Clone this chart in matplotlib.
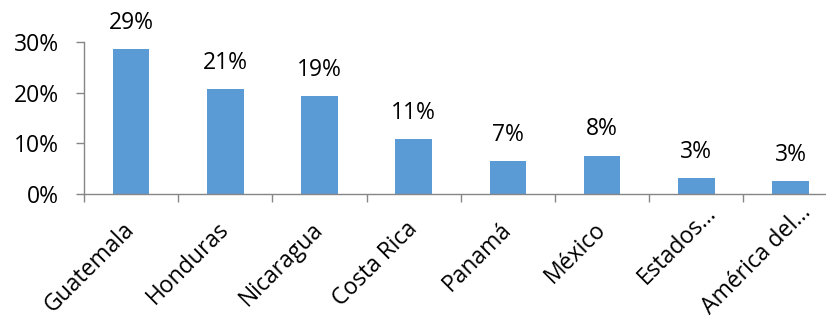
import matplotlib
matplotlib.use("Agg")
import matplotlib.pyplot as plt
import matplotlib.transforms as mtransforms
import numpy as np

# Share of respondents by country of origin (percent)
countries = ["Guatemala", "Honduras", "Nicaragua", "Costa Rica", "Panamá",
             "México", "Estados...", "América del..."]
shares = [28.6, 20.8, 19.3, 10.8, 6.6, 7.6, 3.2, 2.6]
yticks = [0, 10, 20, 30]

plt.rcParams["font.family"] = ["Open Sans", "DejaVu Sans"]
FS = 16.5
BLUE = "#5B9BD5"
AXIS_GRAY = "#868686"

fig = plt.figure(figsize=(8.26, 3.21), dpi=100)
ax = fig.add_axes([84 / 826, 127 / 321, 753.6 / 826, 151.7 / 321])

x = np.arange(len(countries))
bars = ax.bar(x, shares, width=0.39, color=BLUE, zorder=2)

ax.set_xlim(-0.5, len(countries) - 0.5)
ax.set_ylim(0, 30)

# value labels above each bar
for xi, v in zip(x, shares):
    ax.annotate(f"{v:.0f}%", xy=(xi, v), xytext=(0, 18.8),
                textcoords="offset points", ha="center", va="center",
                fontsize=FS, color="black", clip_on=False)

ax.set_yticks(yticks)
ax.set_yticklabels([f"{t}%" for t in yticks], fontsize=FS)
ax.tick_params(axis="y", length=6, width=1, color=AXIS_GRAY, pad=12)

# category ticks sit on the boundaries between bars
ax.set_xticks(np.arange(len(countries) + 1) - 0.5, minor=False)
ax.set_xticklabels([])
ax.tick_params(axis="x", which="major", length=6, width=1, color=AXIS_GRAY)
ax.set_xticks(x, minor=True)
ax.set_xticklabels(countries, minor=True, rotation=45, ha="right",
                   va="center", rotation_mode="anchor", fontsize=FS)
ax.tick_params(axis="x", which="minor", length=0, pad=23)

# truncated names are shifted along their baseline
for lbl in ax.get_xticklabels(minor=True):
    if lbl.get_text().endswith("..."):
        lbl.set_transform(lbl.get_transform() +
                          mtransforms.ScaledTranslation(12.0 / 72, 12.0 / 72,
                                                        fig.dpi_scale_trans))

for side in ("top", "right"):
    ax.spines[side].set_visible(False)
for side in ("left", "bottom"):
    ax.spines[side].set_color(AXIS_GRAY)
    ax.spines[side].set_linewidth(1)

fig.savefig("out.png", dpi=100)
